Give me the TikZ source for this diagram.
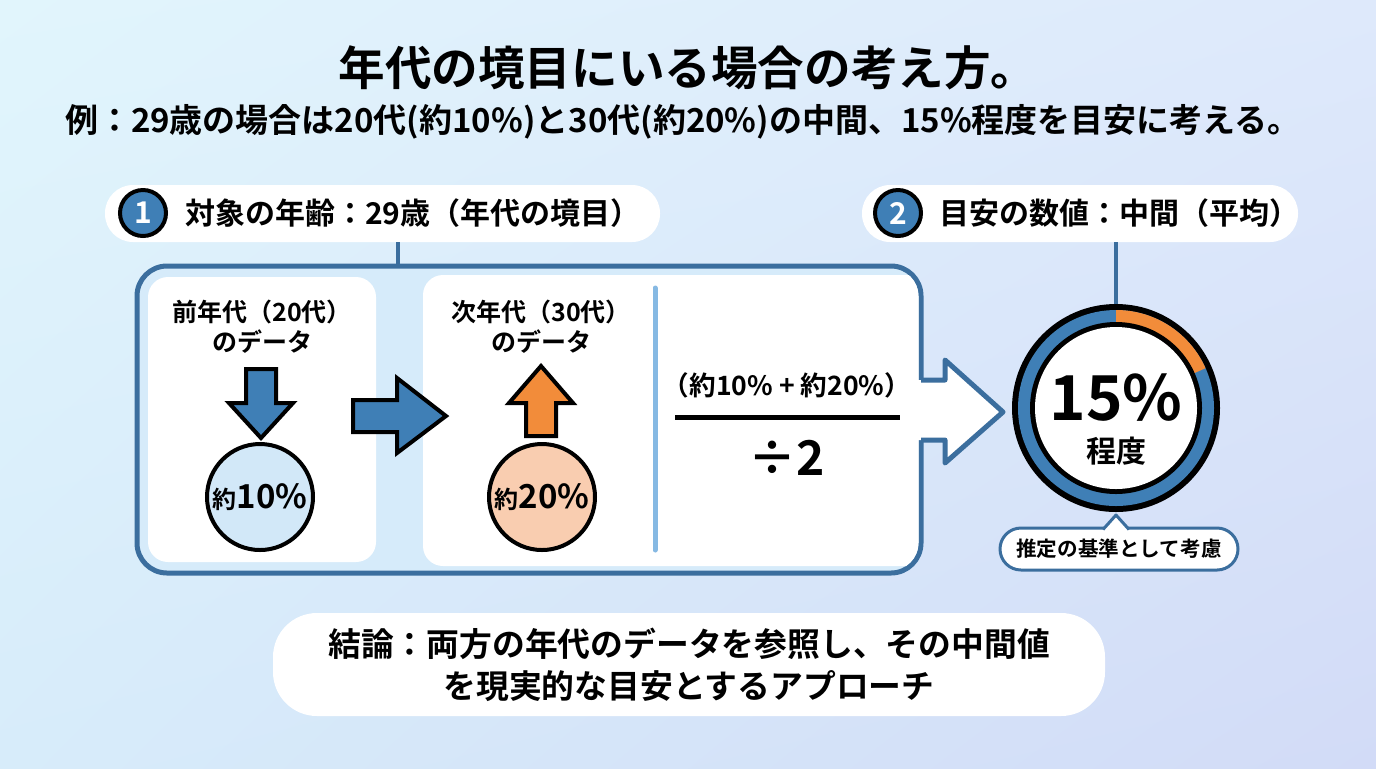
\documentclass[tikz,border=0pt]{standalone}
\usepackage{fontspec}
\setmainfont{Noto Sans CJK JP}[BoldFont={Noto Sans CJK JP Bold}]
\usetikzlibrary{positioning,shadings}
\definecolor{bgTL}{HTML}{E1F5FC}
\definecolor{bgTR}{HTML}{DEE9FB}
\definecolor{bgBL}{HTML}{D7ECFA}
\definecolor{bgBR}{HTML}{D2DBF7}
\definecolor{blueD}{HTML}{3B6E9E}
\definecolor{blueM}{HTML}{3F7FB6}
\definecolor{blueL}{HTML}{86B9E3}
\definecolor{boxfill}{HTML}{D6EBFA}
\definecolor{lightA}{HTML}{D2E8F8}
\definecolor{peach}{HTML}{F9CDB0}
\definecolor{orangeM}{HTML}{F28C3A}
\newcommand{\fs}[1]{\fontsize{#1}{1.2\dimexpr#1pt\relax}\selectfont}

\begin{document}
\begin{tikzpicture}[x=0.5pt,y=-0.5pt,font=\bfseries,
    pill/.style={fill=white,rounded corners=14pt,minimum height=28.5pt,inner sep=0pt},
    numdot/.style={circle,fill=blueM,draw=black,line width=2pt,minimum size=23pt,inner sep=0pt,text=white,font=\bfseries\fs{15}},
    valdot/.style={circle,draw=black,line width=2pt,minimum size=53pt,inner sep=0pt},
    blockarrow/.style={draw=black,line width=2pt,line join=miter},
    link/.style={blueD,line width=2.2pt},
    paneltext/.style={align=center,font=\bfseries\fontsize{12.5}{15}\selectfont}]
    \useasboundingbox (0,0) rectangle (1376,768);
    \shade[upper left=bgTL,upper right=bgTR,lower left=bgBL,lower right=bgBR] (0,0) rectangle (1376,768);

    % title
    \node (title) at (688,68) {\fs{23.3}年代の境目にいる場合の考え方。};
    \node (subtitle) at (683,122) {\fs{16.5}例：29歳の場合は20代(約10\%)と30代(約20\%)の中間、15\%程度を目安に考える。};

    % step labels
    \node[pill,minimum width=277.5pt] (pillA) at (382.5,213.5) {};
    \node[numdot] (numA) at (143,213) {1};
    \node[anchor=west] (pillAtext) at (178,213) {\fs{15}対象の年齢：29歳（年代の境目）};
    \node[pill,minimum width=218pt] (pillB) at (1080,213.5) {};
    \node[numdot] (numB) at (898,213) {2};
    \node[anchor=west] (pillBtext) at (932,213) {\fs{15}目安の数値：中間（平均）};

    % frame
    \node[draw=blueD,fill=boxfill,line width=2.5pt,rounded corners=15pt,minimum width=392pt,minimum height=153.5pt] (frame) at (529,419.5) {};
    \draw[link] ([xshift=7.75pt]pillA.south) -- ([xshift=7.75pt]pillA.south |- frame.north);
    \begin{scope}
        \clip[rounded corners=13.75pt] (139.5,268.5) rectangle (918.5,570.5);
        \fill[white,rounded corners=10pt] (423,275) rectangle (940,566);
    \end{scope}
    \fill[white,rounded corners=10pt] (148,277) rectangle (376,562);

    % way out to the result
    \fill[white] (912,380) -- (945,380) -- (945,360) -- (1003,412) -- (945,463) -- (945,440) -- (912,440) -- cycle;
    \draw[blueD,line width=2.5pt,line join=round] (921,380) -- (945,380) -- (945,360) -- (1003,412) -- (945,463) -- (945,440) -- (921,440);

    % previous decade
    \node[paneltext] (prevtext) at (262,327) {前年代（20代）\\のデータ};
    \filldraw[blockarrow,fill=blueM] (246,369) -- (276,369) -- (276,403) -- (293,403) -- (261,438) -- (229,403) -- (246,403) -- cycle;
    \node[valdot,fill=lightA] (valA) at (260,497) {\fs{12}約\fs{16.5}10\%};

    \filldraw[blockarrow,fill=blueM] (353,400) -- (397,400) -- (397,378) -- (446,416) -- (397,453) -- (397,432) -- (353,432) -- cycle;

    % next decade
    \node[paneltext] (nexttext) at (541,327) {次年代（30代）\\のデータ};
    \filldraw[blockarrow,fill=orangeM] (526,436) -- (556,436) -- (556,403) -- (573,403) -- (541,366) -- (509,403) -- (526,403) -- cycle;
    \node[valdot,fill=peach] (valB) at (542,497) {\fs{12}約\fs{16.5}20\%};

    \draw[blueL,line width=2.5pt,line cap=round] (655,288) -- (655,550);

    % average
    \node (numer) at (787,385) {\fs{13.3}（約10\% + 約20\%）};
    \draw[line width=2.5pt] (675,417) -- (900,417);
    \node (denom) at (787,458) {\fs{24}÷2};

    % result
    \node[circle,fill=black,minimum size=104pt,inner sep=0pt] (res) at (1116,408) {};
    \fill[blueM] (res.center) circle[radius=98];
    \fill[orangeM] (res.center) -- ++(-90:98) arc[start angle=-90,end angle=-24,radius=98] -- cycle;
    \fill[black] (res.center) circle[radius=86];
    \fill[white] (res.center) circle[radius=81];
    \node (restext) at (1116,398) {\fs{31}15\%};
    \node (resunit) at (1116,451) {\fs{15}程度};
    \draw[link] (res.north |- pillB.south) -- (res.north);

    \node[draw=blueD,fill=white,line width=1.5pt,rounded corners=10.5pt,minimum width=119pt,minimum height=21pt,inner sep=0pt] (note) at (1119,549) {\fs{10.3}推定の基準として考慮};
    \fill[white] (1103,531) -- (1116,515) -- (1129,531) -- cycle;
    \draw[blueD,line width=1.5pt,line join=round] (1103,529.5) -- (1116,515) -- (1129,529.5);

    % conclusion
    \node[pill,minimum width=416pt,minimum height=51.5pt,rounded corners=22pt] (concl) at (689,664.5) {};
    \node[align=center,font=\bfseries\fontsize{16.4}{21}\selectfont] (concltext) at (concl.center) {結論：両方の年代のデータを参照し、その中間値\\を現実的な目安とするアプローチ};
\end{tikzpicture}
\end{document}
